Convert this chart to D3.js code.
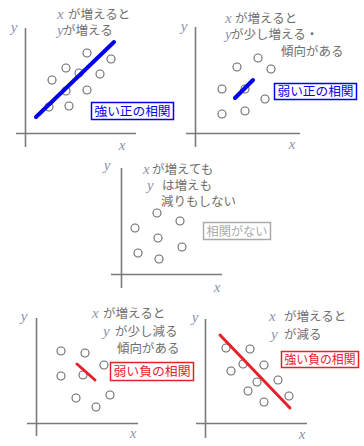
<!DOCTYPE html>
<html><head><meta charset="utf-8">
<script src="https://cdn.jsdelivr.net/npm/d3@7"></script>
<style>
html,body{margin:0;padding:0;background:#fff;}
svg{display:block;}
</style></head>
<body>
<svg id="c" width="364" height="446"></svg>
<script>
// ---- data (units: 0..10 on each panel's own x / y axes) ----
const strongPosPoints = [[6.2,8.0],[8.6,7.4],[4.1,6.5],[5.4,6.0],[7.5,5.9],[2.7,5.3],[4.1,4.2],[6.2,4.3],[2.4,2.6],[4.4,2.7]];
const strongPosLine = [[1.1,1.6],[8.9,9.1]];
const weakPosPoints = [[6.3,7.5],[4.2,6.6],[7.6,6.4],[2.7,4.4],[5.0,4.4],[7.0,3.4],[2.7,1.9],[5.0,2.2]];
const weakPosLine = [[4.0,3.5],[5.8,5.3]];
const nonePoints = [[3.6,6.1],[5.9,5.3],[1.4,4.6],[3.7,3.6],[6.1,2.7],[1.7,2.1],[3.8,1.5]];
const weakNegPoints = [[2.5,7.2],[4.9,7.0],[6.8,5.8],[2.5,4.7],[4.7,4.8],[7.4,2.8],[4.0,2.5],[6.0,1.6]];
const weakNegLine = [[4.1,5.9],[5.9,4.3]];
const strongNegPoints = [[2.1,7.5],[4.5,7.4],[3.8,5.9],[2.6,5.2],[5.9,5.8],[7.3,4.3],[5.2,4.1],[4.3,3.2],[8.4,2.7],[5.9,2.1]];
const strongNegLine = [[1.5,8.8],[8.5,1.5]];

const labels = ["強い正の相関","弱い正の相関","相関がない","弱い負の相関","強い負の相関"];
const notes = [
  [["x","が増えると"],["y","が増える"]],
  [["x","が増えると"],["y","が少し増える・"],["","傾向がある"]],
  [["x","が増えても"],["y","は増えも"],["","減りもしない"]],
  [["x","が増えると"],["y","が少し減る"],["","傾向がある"]],
  [["x","が増えると"],["y","が減る"]]
];

// ---- layout ----
const panels = [
  {ox:25, oy:133, ax:[16,136], ay:[28,147], pts:strongPosPoints, line:strongPosLine, col:"#0000ee", lw:4,
   box:[91,102,82,17], ylab:[14,27], xlab:[122,145],
   notes:[{lx:57,tx:68,y:14},{lx:57,tx:63,y:30}]},
  {ox:195, oy:133, ax:[186,300], ay:[27,147], pts:weakPosPoints, line:weakPosLine, col:"#0000ee", lw:4,
   box:[274,83,82,16], ylab:[184,26], xlab:[292,144],
   notes:[{lx:225,tx:235,y:18},{lx:225,tx:231,y:34},{lx:0,tx:281,y:51}]},
  {ox:121, oy:274, ax:[111,222], ay:[168,288], pts:nonePoints, line:null, col:"#aaaaaa", lw:0,
   box:[203,222,67,17], ylab:[107,165], xlab:[217,287],
   notes:[{lx:143,tx:152,y:169},{lx:147,tx:162,y:185},{lx:0,tx:161,y:201}]},
  {ox:36, oy:423, ax:[27,138], ay:[318,436], pts:weakNegPoints, line:weakNegLine, col:"#e8202a", lw:3,
   box:[110,362,83,18], ylab:[24,316], xlab:[133,433],
   notes:[{lx:92,tx:103,y:313},{lx:103,tx:115,y:331},{lx:0,tx:117,y:348}]},
  {ox:205, oy:423, ax:[196,307], ay:[319,438], pts:strongNegPoints, line:strongNegLine, col:"#e8202a", lw:3,
   box:[281,351,77,16], ylab:[195,317], xlab:[302,434],
   notes:[{lx:269,tx:284,y:316},{lx:271,tx:284,y:334}]}
];

const svg = d3.select("#c");
const textCol = "#6e6e6e";
const letterCol = "#8c93ab";
const jp = "'Noto Sans CJK JP', sans-serif";
const serif = "'Liberation Serif', 'DejaVu Serif', serif";

panels.forEach((p, i) => {
  const g = svg.append("g");
  const x = d3.scaleLinear().domain([0,10]).range([p.ox, p.ox+100]);
  const y = d3.scaleLinear().domain([0,10]).range([p.oy, p.oy-100]);

  // axes
  g.append("line").attr("x1",p.ax[0]).attr("x2",p.ax[1]).attr("y1",p.oy+0.5).attr("y2",p.oy+0.5)
    .attr("stroke","#7a7a7a").attr("stroke-width",1.6);
  g.append("line").attr("x1",p.ox+0.5).attr("x2",p.ox+0.5).attr("y1",p.ay[0]).attr("y2",p.ay[1])
    .attr("stroke","#7a7a7a").attr("stroke-width",1.6);

  // axis labels
  g.append("text").attr("x",p.ylab[0]).attr("y",p.ylab[1]).attr("dy","0.32em").attr("text-anchor","middle")
    .attr("font-family",serif).attr("font-style","italic").attr("font-size",15).attr("fill",letterCol).text("y");
  g.append("text").attr("x",p.xlab[0]).attr("y",p.xlab[1]).attr("dy","0.32em").attr("text-anchor","middle")
    .attr("font-family",serif).attr("font-style","italic").attr("font-size",15).attr("fill",letterCol).text("x");

  // points
  g.selectAll("circle").data(p.pts).join("circle")
    .attr("cx",d=>x(d[0])).attr("cy",d=>y(d[1])).attr("r",4)
    .attr("fill","#fff").attr("stroke","#6a6a6a").attr("stroke-width",1.1);

  // trend line
  if (p.line) {
    g.append("path").datum(p.line)
      .attr("d", d3.line().x(d=>x(d[0])).y(d=>y(d[1])))
      .attr("stroke",p.col).attr("stroke-width",p.lw).attr("stroke-linecap","round").attr("fill","none");
  }

  // notes
  notes[i].forEach((n, k) => {
    const pos = p.notes[k];
    if (n[0]) {
      g.append("text").attr("x",pos.lx).attr("y",pos.y).attr("dy","0.35em")
        .attr("font-family",serif).attr("font-style","italic").attr("font-size",15).attr("fill",letterCol).text(n[0]);
    }
    g.append("text").attr("x",pos.tx).attr("y",pos.y).attr("dy","0.38em")
      .attr("font-family",jp).attr("font-size",12.5).attr("fill",textCol).text(n[1]);
  });

  // label box
  const b = p.box;
  g.append("rect").attr("x",b[0]+0.5).attr("y",b[1]+0.5).attr("width",b[2]).attr("height",b[3])
    .attr("fill","#fff").attr("stroke",p.col).attr("stroke-width",1.5);
  g.append("text").attr("x",b[0]+b[2]/2+0.5).attr("y",b[1]+b[3]/2+0.5).attr("dy","0.37em")
    .attr("text-anchor","middle").attr("font-family",jp).attr("font-size",12.5)
    .attr("textLength", b[2]-6).attr("lengthAdjust","spacingAndGlyphs")
    .attr("fill",p.col).text(labels[i]);
});
</script>
</body></html>
